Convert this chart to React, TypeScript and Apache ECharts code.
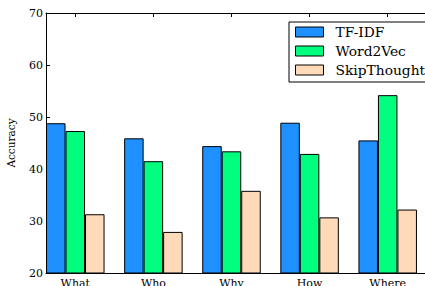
import React, { useEffect, useRef } from "react";
import * as echarts from "echarts";

const categories = ["What", "Who", "Why", "How", "Where"];
const seriesNames = ["TF-IDF", "Word2Vec", "SkipThought"];
const tfidf = [48.8, 45.9, 44.4, 48.9, 45.5];
const word2vec = [47.3, 41.5, 43.4, 42.9, 54.2];
const skipThought = [31.3, 27.9, 35.8, 30.7, 32.2];
const colors = ["#1E90FF", "#00FF7F", "#FFDAB9"];
const yTicks = [20, 30, 40, 50, 60, 70];

const FONT = "DejaVu Serif";

export default function App() {
  const ref = useRef<HTMLDivElement>(null);
  useEffect(() => {
    if (!ref.current) return;
    const chart = echarts.init(ref.current, undefined, { renderer: "svg" });
    const values = [tfidf, word2vec, skipThought];
    const idx = categories.map((_, i) => i);
    const xCommon = {
      type: "value" as const,
      min: -0.375,
      max: 4.625,
      splitLine: { show: false },
      axisLine: { show: true, onZero: false, lineStyle: { color: "#000", width: 1 } },
      axisTick: {
        show: true,
        inside: true,
        length: 4,
        customValues: idx,
        lineStyle: { color: "#000", width: 1 },
      },
    };
    chart.setOption({
      animation: false,
      backgroundColor: "#fff",
      textStyle: { fontFamily: FONT },
      grid: {
        left: 46,
        top: 13,
        bottom: 13,
        right: -11.5,
        containLabel: false,
        outerBoundsMode: "none",
      },
      xAxis: [
        {
          ...xCommon,
          position: "bottom",
          axisLabel: {
            show: true,
            customValues: idx,
            formatter: (v: number) => categories[Math.round(v)] ?? "",
            color: "#000",
            fontFamily: FONT,
            fontSize: 11,
            margin: 5,
          },
        },
        {
          ...xCommon,
          position: "top",
          axisLabel: { show: false },
        },
      ],
      yAxis: {
        type: "value",
        min: yTicks[0],
        max: yTicks[yTicks.length - 1],
        interval: 10,
        name: "Accuracy",
        nameLocation: "middle",
        nameGap: 30,
        nameRotate: 90,
        nameTextStyle: { color: "#000", fontFamily: FONT, fontSize: 10.5 },
        splitLine: { show: false },
        axisLine: { show: true, onZero: false, lineStyle: { color: "#000", width: 1 } },
        axisTick: { show: true, inside: true, length: 4, lineStyle: { color: "#000" } },
        axisLabel: { color: "#000", fontFamily: FONT, fontSize: 11, margin: 3 },
      },
      legend: {
        show: true,
        data: seriesNames,
        orient: "vertical",
        left: 289,
        top: 22,
        padding: [3, 10, 5, 6],
        itemWidth: 28,
        itemHeight: 10,
        itemGap: 5,
        borderColor: "#000",
        borderWidth: 1,
        backgroundColor: "#fff",
        icon: "rect",
        itemStyle: { borderColor: "#000", borderWidth: 1 },
        textStyle: {
          color: "#000",
          fontFamily: FONT,
          fontSize: 13.8,
          padding: [0, 0, 0, 7],
        },
      },
      series: seriesNames.map((name, s) => ({
        name,
        type: "bar",
        xAxisIndex: 0,
        barWidth: 19.5,
        barGap: "0%",
        itemStyle: { color: colors[s], borderColor: "#000", borderWidth: 1 },
        data: values[s].map((v, i) => [i, v]),
      })),
    });
    return () => chart.dispose();
  }, []);
  return (
    <div
      ref={ref}
      style={{ position: "fixed", left: 0, top: 0, width: 425, height: 286 }}
    />
  );
}
